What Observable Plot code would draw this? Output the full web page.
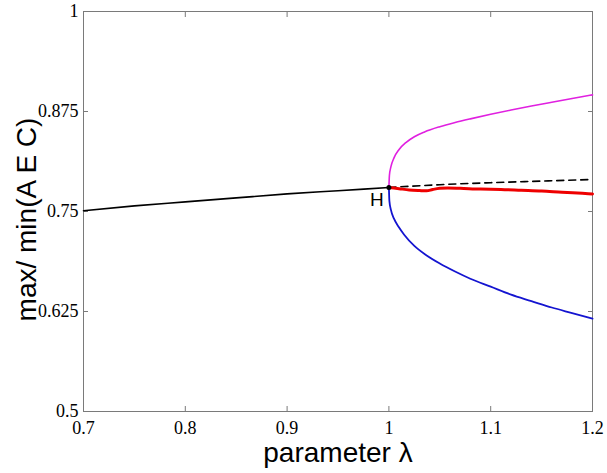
<!DOCTYPE html>
<html>
<head>
<meta charset="utf-8">
<script src="https://cdn.jsdelivr.net/npm/d3@7"></script>
<script src="https://cdn.jsdelivr.net/npm/@observablehq/plot@0.6"></script>
<style>
  html, body { margin: 0; padding: 0; background: #fff; }
  svg { display: block; }
  svg g[aria-label$="tick label"], svg g[aria-label$="tick label"] text {
    font-family: "Liberation Serif", "Times New Roman", serif !important;
    font-size: 18px !important;
  }
</style>
</head>
<body>
<div id="chart"></div>
<script>
// Tick values
const xTicks = [0.7, 0.8, 0.9, 1.0, 1.1, 1.2];
const yTicks = [0.5, 0.625, 0.75, 0.875, 1];

// Stable equilibrium branch (solid black), λ < 1
const stableLambda = [0.7, 0.75, 0.8, 0.85, 0.9, 0.95, 1.0];
const stableValue  = [0.751, 0.757, 0.762, 0.767, 0.772, 0.776, 0.780];

// Unstable equilibrium branch (dashed black), λ > 1
const unstableLambda = [1.0, 1.05, 1.1, 1.15, 1.2];
const unstableValue  = [0.780, 0.7835, 0.786, 0.788, 0.790];

// Periodic orbit maximum (magenta)
const maxLambda = [1.0, 1.0005, 1.002, 1.005, 1.010, 1.017, 1.025, 1.035, 1.050, 1.065, 1.080, 1.100, 1.120, 1.140, 1.160, 1.180, 1.200];
const maxValue  = [0.780, 0.795, 0.806, 0.817, 0.8275, 0.8365, 0.8435, 0.8495, 0.856, 0.8612, 0.8658, 0.8715, 0.8768, 0.8818, 0.8866, 0.8913, 0.8958];

// Periodic orbit minimum (blue)
const minLambda = [1.0, 1.0005, 1.002, 1.005, 1.010, 1.015, 1.025, 1.036, 1.050, 1.065, 1.080, 1.100, 1.120, 1.140, 1.160, 1.180, 1.200];
const minValue  = [0.780, 0.763, 0.752, 0.741, 0.730, 0.721, 0.707, 0.696, 0.685, 0.675, 0.666, 0.656, 0.646, 0.638, 0.630, 0.623, 0.616];

// Simulated mean (red, thick)
const meanLambda = [1.0, 1.01, 1.02, 1.03, 1.037, 1.043, 1.05, 1.058, 1.07, 1.09, 1.11, 1.13, 1.15, 1.17, 1.19, 1.2];
const meanValue  = [0.780, 0.7785, 0.777, 0.7762, 0.7758, 0.7775, 0.779, 0.7795, 0.779, 0.778, 0.7775, 0.7765, 0.7755, 0.774, 0.7727, 0.772];

// Hopf point
const hopfLambda = [1.0];
const hopfValue = [0.780];
const hopfLabel = ["H"];

const xLabel = "parameter λ";
const yLabel = "max/ min(A E C)";

const zip = (xs, ys) => xs.map((x, i) => ({x, y: ys[i]}));

const serif = "Liberation Serif";
const sans = "Liberation Sans";

const chart = Plot.plot({
  width: 607,
  height: 473,
  marginLeft: 83,
  marginRight: 15,
  marginTop: 11,
  marginBottom: 62,
  style: {background: "#fff", color: "#000", fontFamily: serif, fontSize: "18px"},
  x: {domain: [0.7, 1.2]},
  y: {domain: [0.5, 1]},
  marks: [
    Plot.frame({stroke: "#7a7a7a", strokeWidth: 1}),
    Plot.axisX({anchor: "bottom", ticks: xTicks, tickSize: -5, tickPadding: 15,
      tickFormat: d => String(d), fontSize: 18, fontFamily: serif, stroke: "#7a7a7a", label: null}),
    Plot.axisX({anchor: "top", ticks: xTicks, tickSize: -5, tickFormat: () => "", stroke: "#7a7a7a", label: null}),
    Plot.axisY({anchor: "left", ticks: yTicks, tickSize: -5, tickPadding: 10,
      tickFormat: d => String(d), fontSize: 18, fontFamily: serif, stroke: "#7a7a7a", label: null}),
    Plot.axisY({anchor: "right", ticks: yTicks, tickSize: -5, tickFormat: () => "", stroke: "#7a7a7a", label: null}),
    Plot.line(zip(stableLambda, stableValue), {x: "x", y: "y", stroke: "#000", strokeWidth: 1.6, curve: "monotone-x"}),
    Plot.line(zip(unstableLambda, unstableValue), {x: "x", y: "y", stroke: "#000", strokeWidth: 1.6, strokeDasharray: "7,5", curve: "monotone-x"}),
    Plot.line(zip(maxLambda, maxValue), {x: "x", y: "y", stroke: "#e020e0", strokeWidth: 1.6, curve: "monotone-x"}),
    Plot.line(zip(minLambda, minValue), {x: "x", y: "y", stroke: "#1414d0", strokeWidth: 1.8, curve: "monotone-x"}),
    Plot.line(zip(meanLambda, meanValue), {x: "x", y: "y", stroke: "#ee0000", strokeWidth: 3, curve: "monotone-x"}),
    Plot.dot(zip(hopfLambda, hopfValue), {x: "x", y: "y", r: 2.5, fill: "#000", stroke: null}),
    Plot.text(hopfLambda.map((x, i) => ({x, y: hopfValue[i], t: hopfLabel[i]})),
      {x: "x", y: "y", text: "t", dx: -12, dy: 12, fontSize: 19, fontFamily: sans, fill: "#000"}),
    Plot.text([xLabel], {frameAnchor: "bottom", dy: 42, text: d => d, fontSize: 28, fontFamily: sans, fill: "#000", lineAnchor: "middle", textAnchor: "middle"}),
    Plot.text([yLabel], {frameAnchor: "left", dx: -56, dy: 8, rotate: -90, text: d => d, fontSize: 28, fontFamily: sans, fill: "#000", lineAnchor: "middle", textAnchor: "middle"})
  ]
});
document.getElementById("chart").appendChild(chart);
</script>
</body>
</html>
